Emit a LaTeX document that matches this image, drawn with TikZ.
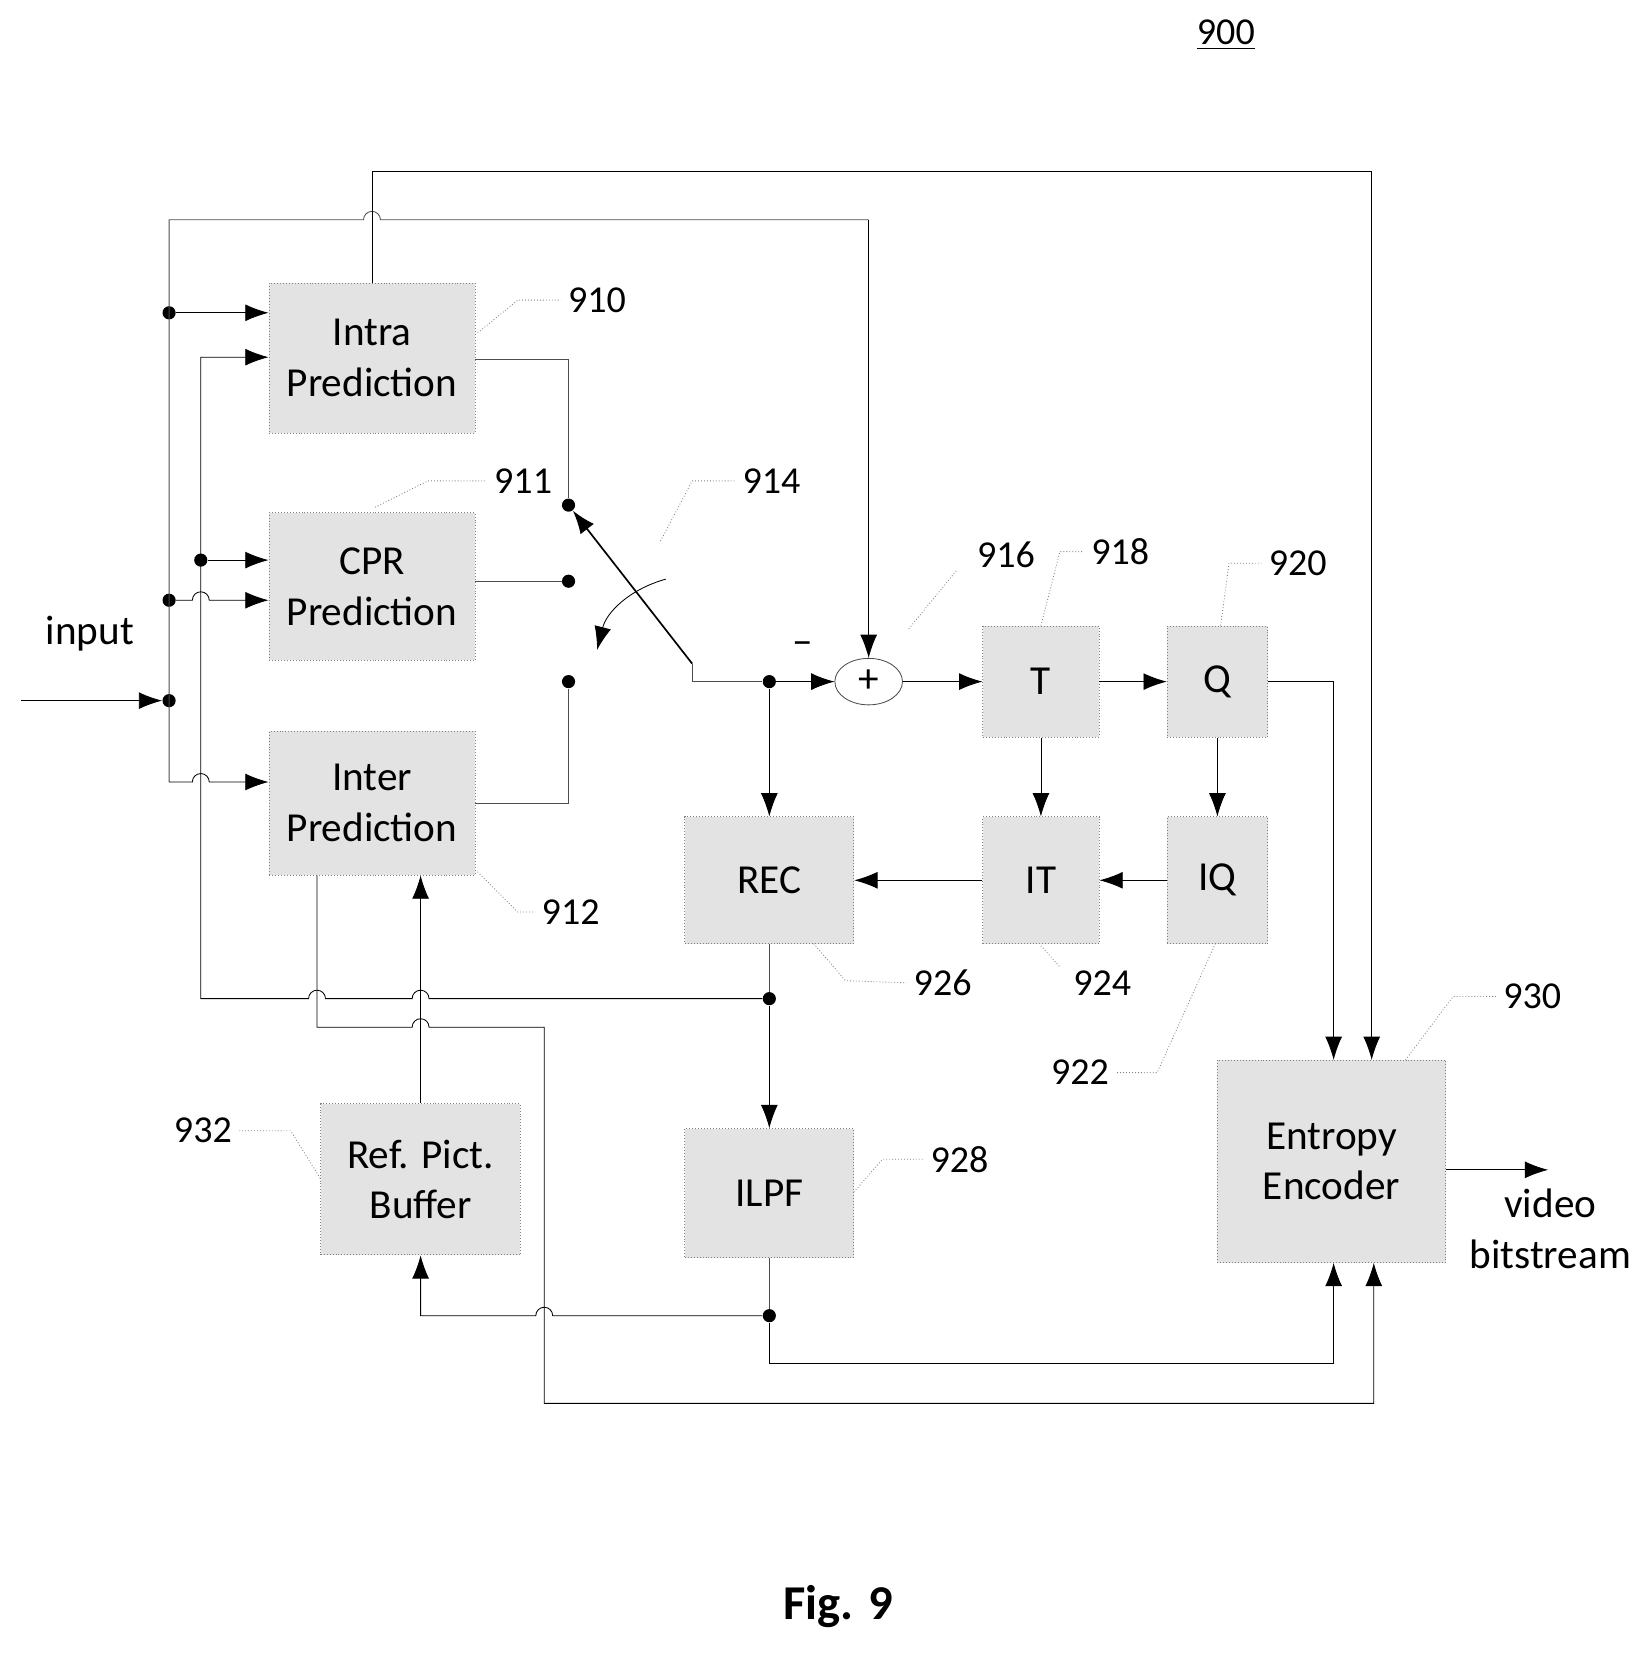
\documentclass[tikz,border=0pt]{standalone}
\usepackage{fontspec}
\setmainfont{Carlito}
\usetikzlibrary{arrows.meta,shapes.geometric}
\begin{document}
\begin{tikzpicture}[x=0.5pt,y=-0.5pt,
    blk/.style={draw=gray, densely dotted, fill=gray!22, inner sep=0pt},
    ln/.style={gray!60!black, thin},
    arr/.style={ln, -{Latex[length=11pt,width=8pt]}, black},
    lead/.style={gray, densely dotted, thin},
    dot/.style={circle, fill=black, inner sep=2.2pt},
    num/.style={font=\fontsize{18}{21}\selectfont}]
    \useasboundingbox (0,0) rectangle (1563,1568);
    \def\h{8}
    \tikzset{every node/.append style={font=\fontsize{19.5}{24}\selectfont}}

    % blocks
    \node[blk, minimum width=97.5pt, minimum height=71pt, align=center] (intra) at (352,339) {Intra\\Prediction};
    \node[blk, minimum width=97.5pt, minimum height=70pt, align=center] (cpr) at (352,555) {CPR\\Prediction};
    \node[blk, minimum width=97.5pt, minimum height=68pt, align=center] (inter) at (352,760) {Inter\\Prediction};
    \node[blk, minimum width=55pt, minimum height=52.5pt] (T) at (985,645) {T};
    \node[blk, minimum width=47.5pt, minimum height=52.5pt] (Q) at (1152,645) {Q};
    \node[blk, minimum width=55pt, minimum height=60pt] (IT) at (985,833) {IT};
    \node[blk, minimum width=47.5pt, minimum height=60pt] (IQ) at (1152,833) {IQ};
    \node[blk, minimum width=80pt, minimum height=60pt] (rec) at (728,833) {REC};
    \node[blk, minimum width=80pt, minimum height=61pt] (ilpf) at (728,1129) {ILPF};
    \node[blk, minimum width=94.5pt, minimum height=71.5pt, align=center] (rpb) at (398,1116) {Ref. Pict.\\Buffer};
    \node[blk, minimum width=108pt, minimum height=96pt, align=center] (ent) at (1260,1099) {Entropy\\Encoder};
    \node[draw=gray!60!black, thin, ellipse, minimum width=32pt, minimum height=22pt, inner sep=0pt] (add) at (822,645) {+};
    \node (minus) at (760,613) {--};

    % switch
    \node[dot] (s1) at (538,478) {};
    \node[dot] (s2) at (538,550) {};
    \node[dot] (s3) at (538,645) {};
    \coordinate (piv) at (655,628);
    \node[dot] (j1) at (728,645) {};
    \draw[ln] (intra.east |- 0,340) -- (538,340) -- (s1);
    \draw[ln] (cpr.east |- s2) -- (s2);
    \draw[ln] (inter.east |- 0,760) -- (538,760) -- (s3);
    \draw[arr, thick] (piv) -- (s1);
    \draw[ln] (piv) -- (655,645) -- (j1);
    \draw[arr] (j1) -- (add);
    \draw[arr] (630,548) to[bend right=30] (565,615);

    % main path
    \draw[arr] (add) -- (T);
    \draw[arr] (T) -- (Q);
    \draw[arr] (T) -- (IT);
    \draw[arr] (Q) -- (IQ);
    \draw[arr] (IQ) -- (IT);
    \draw[arr] (IT) -- (rec);
    \draw[arr] (j1) -- (rec);
    \draw[arr] (Q.east) -- (1262,645) -- (1262,1003);
    \node[dot] (j2) at (728,945) {};
    \draw[ln] (rec) -- (j2);
    \draw[arr] (j2) -- (ilpf);
    \node[dot] (j3) at (728,1245) {};
    \draw[ln] (ilpf) -- (j3);
    \draw[arr] (j3) -- (728,1290) -- (1262,1290) -- (1262,1195);
    \draw[arr] (j3) -- (515+\h,1245) arc (360:180:\h) -- (398,1245) -- (rpb.south);
    \draw[arr] (ent.east |- 0,1107) -- (1465,1107);
    \node[align=center] (vb) at (1467,1163) {video\\bitstream};

    % feedback to intra
    \draw[arr] (j2) -- (398+\h,945) arc (360:180:\h) -- (300+\h,945) arc (360:180:\h) -- (190,945) -- (190,338) -- (intra.west |- 0,338);
    % inter to entropy
    \draw[arr] (inter.south -| 300,0) -- (300,972) -- (398-\h,972) arc (180:360:\h)
      -- (515,972) -- (515,1328) -- (1300,1328) -- (1300,1195);
    \draw[arr] (rpb.north) -- (inter.south -| 398,0);

    % input
    \node (in) at (85,600) {input};
    \node[dot] (i0) at (160,663) {};
    \draw[arr] (20,663) -- (i0);
    \node[dot] (i1) at (160,296) {};
    \node[dot] (i2) at (160,568) {};
    \node[dot] (i3) at (190,530) {};
    \draw[ln] (160,740) -- (160,208) -- (352-\h,208) arc (180:360:\h) -- (822,208);
    \draw[arr] (822,208) -- (add);
    \draw[arr] (i1) -- (intra.west |- i1);
    \draw[arr] (i2) -- (190-\h,568) arc (180:360:\h) -- (cpr.west |- i2);
    \draw[arr] (i3) -- (cpr.west |- i3);
    \draw[arr] (160,740) -- (190-\h,740) arc (180:360:\h) -- (inter.west |- 0,740);
    \draw[arr] (intra.north) -- (352,162) -- (1298,162) -- (1298,1003);

    % reference numbers
    \node[num] (n910) at (565,284) {910};
    \draw[lead] (452,315) -- (490,284) -- (n910.west);
    \node[num] (n911) at (495,455) {911};
    \draw[lead] (355,480) -- (405,455) -- (n911.west);
    \node[num] (n914) at (730,455) {914};
    \draw[lead] (625,512) -- (655,455) -- (n914.west);
    \node[num] (n916) at (952,525) {916};
    \draw[lead] (860,595) -- (905,540);
    \node[num] (n918) at (1060,522) {918};
    \draw[lead] (985,592) -- (1003,522) -- (n918.west);
    \node[num] (n920) at (1228,533) {920};
    \draw[lead] (1155,592) -- (1163,533) -- (n920.west);
    \node[num] (n912) at (540,863) {912};
    \draw[lead] (452,825) -- (490,863) -- (n912.west);
    \node[num] (n926) at (892,930) {926};
    \draw[lead] (770,893) -- (800,928) -- (n926.west);
    \node[num] (n924) at (1043,930) {924};
    \draw[lead] (985,895) -- (1003,915);
    \node[num] (n922) at (1022,1015) {922};
    \draw[lead] (1150,893) -- (1095,1015) -- (n922.east);
    \node[num] (n930) at (1450,943) {930};
    \draw[lead] (1330,1003) -- (1375,943) -- (n930.west);
    \node[num] (n928) at (908,1097) {928};
    \draw[lead] (808,1128) -- (835,1097) -- (n928.west);
    \node[num] (n932) at (192,1070) {932};
    \draw[lead] (303,1115) -- (275,1070) -- (n932.east);
    \node[num] (n900) at (1160,33) {\underline{900}};
    \node[font=\fontsize{23}{27}\selectfont\bfseries] (fig) at (793,1520) {Fig. 9};
\end{tikzpicture}
\end{document}
